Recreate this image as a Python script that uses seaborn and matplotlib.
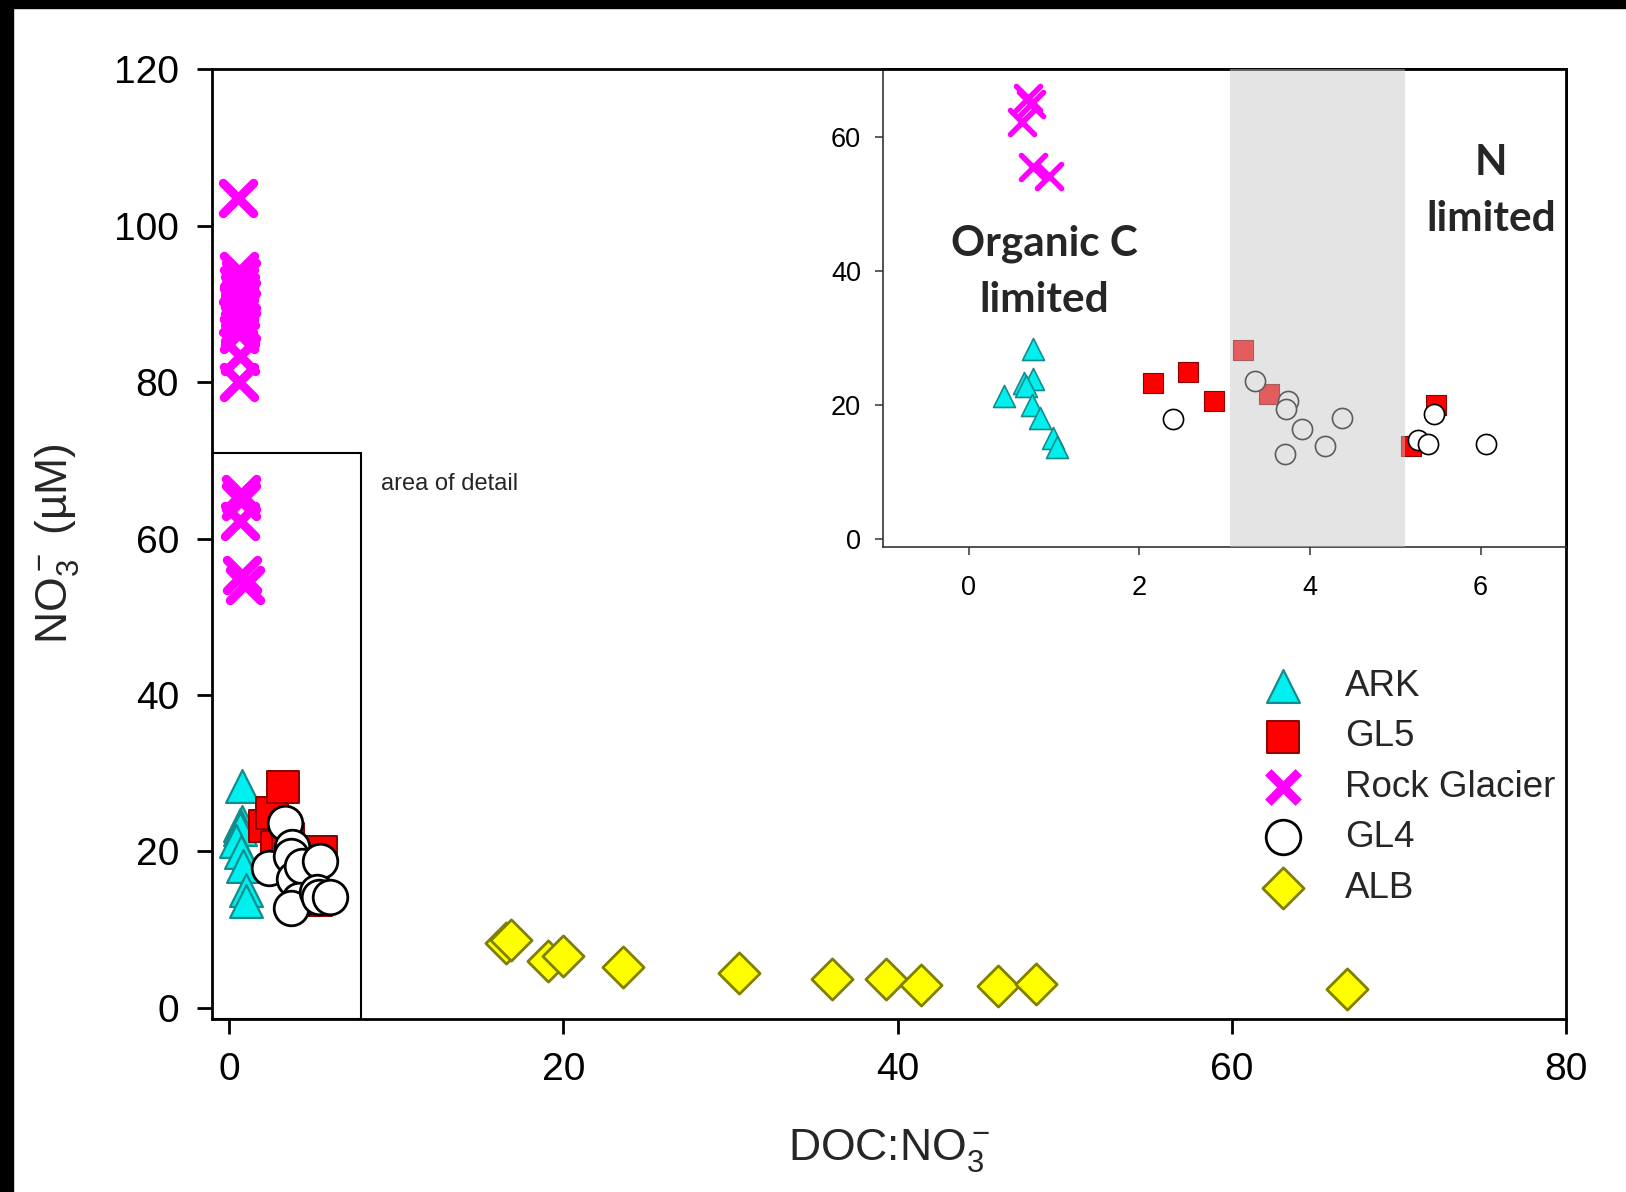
import matplotlib
matplotlib.use("Agg")
import matplotlib.pyplot as plt
import seaborn as sns
import pandas as pd
from matplotlib.patches import Rectangle

# ---------------- data ----------------
sites = ["ARK", "GL5", "Rock Glacier", "GL4", "ALB"]

ark_x = [0.75, 0.76, 0.65, 0.67, 0.42, 0.74, 0.84, 0.99, 1.04]
ark_y = [28.3, 23.8, 23.3, 22.8, 21.3, 19.9, 18.1, 15.0, 13.7]

gl5_x = [2.16, 2.57, 2.87, 3.21, 3.52, 5.48, 5.18]
gl5_y = [23.2, 24.9, 20.5, 28.2, 21.6, 19.9, 13.8]

rock_x = [0.55, 0.62, 0.70, 0.58, 0.66, 0.74, 0.60, 0.68, 0.56, 0.72,
          0.64, 0.60, 0.66, 0.62, 0.70, 0.73, 0.63, 0.75, 0.94]
rock_y = [103.5, 94.2, 93.3, 92.4, 91.6, 90.8, 90.0, 89.2, 88.4, 87.6,
          86.8, 86.2, 83.3, 80.0, 65.7, 64.8, 62.2, 55.4, 54.1]

gl4_x = [2.40, 3.36, 3.74, 3.72, 3.91, 4.37, 4.18, 3.71, 5.45, 5.27, 5.38, 6.06]
gl4_y = [17.9, 23.6, 20.5, 19.4, 16.4, 18.1, 13.8, 12.7, 18.7, 14.8, 14.1, 14.1]

alb_x = [16.6, 16.9, 19.1, 20.0, 23.6, 30.5, 36.1, 39.3, 41.4, 46.0, 48.3, 66.9]
alb_y = [8.3, 8.6, 6.0, 6.6, 5.2, 4.4, 3.6, 3.6, 2.9, 2.8, 3.0, 2.4]

main_xticks = [0, 20, 40, 60, 80]
main_yticks = [0, 20, 40, 60, 80, 100, 120]
inset_xticks = [0, 2, 4, 6]
inset_yticks = [0, 20, 40, 60]
band_range = [3.06, 5.11]   # shaded transition zone in the inset (DOC:NO3)

# ---------------- style ----------------
sns.set_theme(style="white")
plt.rcParams["font.family"] = ["Liberation Sans", "DejaVu Sans"]
plt.rcParams["mathtext.fontset"] = "custom"
plt.rcParams["mathtext.rm"] = "Liberation Sans"
plt.rcParams["mathtext.it"] = "Liberation Sans:italic"
plt.rcParams["mathtext.bf"] = "Liberation Sans:bold"

styles = {
    "ARK": dict(marker="^", color="#00f0f0", edgecolor="#148c8c"),
    "GL5": dict(marker="s", color="#ff0000", edgecolor="#8b0000"),
    "Rock Glacier": dict(marker="x", color="#ff00ff"),
    "GL4": dict(marker="o", color="white", edgecolor="black"),
    "ALB": dict(marker="D", color="#ffff00", edgecolor="#808000"),
}
series = {
    "ARK": (ark_x, ark_y),
    "GL5": (gl5_x, gl5_y),
    "Rock Glacier": (rock_x, rock_y),
    "GL4": (gl4_x, gl4_y),
    "ALB": (alb_x, alb_y),
}
main_size = {"ARK": 560, "GL5": 520, "Rock Glacier": 480, "GL4": 620, "ALB": 440}
main_lw = {"ARK": 1.6, "GL5": 1.4, "Rock Glacier": 6.5, "GL4": 2.0, "ALB": 2.0}
inset_size = {"ARK": 250, "GL5": 190, "Rock Glacier": 300, "GL4": 210, "ALB": 200}
inset_lw = {"ARK": 1.2, "GL5": 0.8, "Rock Glacier": 4.0, "GL4": 1.2, "ALB": 1.2}

fig = plt.figure(figsize=(16.26, 11.92), dpi=100)
fig.patch.set_facecolor("white")

# ---------------- main axes ----------------
ax = fig.add_axes([0.1306, 0.1455, 0.8325, 0.7962])
handles = []
for name in sites:
    x, y = series[name]
    df = pd.DataFrame({"x": x, "y": y})
    st = styles[name]
    kw = dict(marker=st["marker"], s=main_size[name], linewidth=main_lw[name],
              color=st["color"], zorder=2, legend=False, label=name)
    if "edgecolor" in st:
        kw["edgecolor"] = st["edgecolor"]
    sns.scatterplot(data=df, x="x", y="y", ax=ax, **kw)
    coll = ax.collections[-1]
    if name == "Rock Glacier":
        coll.set_capstyle("round")
    handles.append(coll)

ax.set_xlim(-1.0, 80)
ax.set_ylim(-1.4, 120)
ax.set_xticks(main_xticks)
ax.set_yticks(main_yticks)
for sp in ax.spines.values():
    sp.set_visible(True)
    sp.set_linewidth(2.0)
    sp.set_color("black")
ax.tick_params(axis="both", direction="out", length=11, width=2.0,
               labelsize=28, colors="black", bottom=True, left=True)
ax.tick_params(axis="x", pad=13)
ax.tick_params(axis="y", pad=13)

ax.set_xlabel(r"DOC:NO$_3^-$", fontsize=32)
ax.set_ylabel(r"NO$_3^-$ (µM)", fontsize=32)
ax.xaxis.label.set_verticalalignment("center")
ax.yaxis.label.set_verticalalignment("center")
ax.xaxis.set_label_coords(0.5, -0.139)
ax.yaxis.set_label_coords(-0.1145, 0.5)

# area of detail box
ax.add_patch(Rectangle((-1.0, -1.4), 8.9, 72.4, fill=False, edgecolor="black",
                       linewidth=1.5, zorder=1))
ax.text(9.1, 67.0, "area of detail", fontsize=17, ha="left", va="center")

leg = ax.legend(handles=handles, labels=sites, loc="upper left",
                bbox_to_anchor=(0.7721, 0.439), bbox_transform=fig.transFigure,
                frameon=False, fontsize=26.5, handlelength=1.5, handletextpad=0.94,
                labelspacing=0.42, borderpad=0, borderaxespad=0)

# ---------------- inset axes ----------------
axi = fig.add_axes([0.5432, 0.5411, 0.4199, 0.4006])
axi.set_facecolor("white")
for name in sites:
    x, y = series[name]
    df = pd.DataFrame({"x": x, "y": y})
    st = styles[name]
    kw = dict(marker=st["marker"], s=inset_size[name], linewidth=inset_lw[name],
              color=st["color"], zorder=2, legend=False)
    if "edgecolor" in st:
        kw["edgecolor"] = st["edgecolor"]
    sns.scatterplot(data=df, x="x", y="y", ax=axi, **kw)
    if name == "Rock Glacier":
        axi.collections[-1].set_capstyle("round")

axi.axvspan(band_range[0], band_range[1], color="#c6c6c6", alpha=0.47,
            linewidth=0, zorder=3)
axi.set_xlim(-1, 7)
axi.set_ylim(-1.2, 70)
axi.set_xticks(inset_xticks)
axi.set_yticks(inset_yticks)
axi.set_xlabel("")
axi.set_ylabel("")
for sp in axi.spines.values():
    sp.set_visible(True)
    sp.set_linewidth(1.2)
    sp.set_color("#333333")
axi.spines["top"].set_color("black")
axi.spines["top"].set_linewidth(2.0)
axi.spines["right"].set_color("black")
axi.spines["right"].set_linewidth(2.0)
axi.tick_params(axis="both", direction="out", length=6, width=1.1,
                labelsize=19.5, colors="#333333", labelcolor="black",
                bottom=True, left=True)
axi.tick_params(axis="x", pad=14)
axi.tick_params(axis="y", pad=10)

axi.text(0.89, 39.8, "Organic C\nlimited", fontsize=30.4, fontweight="bold",
         family=["Lato", "DejaVu Sans"], ha="center", va="center",
         linespacing=1.58, zorder=4)
axi.text(6.12, 51.9, "N\nlimited", fontsize=30.4, fontweight="bold",
         family=["Lato", "DejaVu Sans"], ha="center", va="center",
         linespacing=1.58, zorder=4)

# ---------------- black screenshot frame ----------------
W, H = 1626.0, 1192.0
fig.add_artist(Rectangle((0, 1 - 8 / H), 1, 8 / H, transform=fig.transFigure,
                         color="black", zorder=10))
fig.add_artist(Rectangle((0, 0), 12.5 / W, 1, transform=fig.transFigure,
                         color="black", zorder=10))

fig.savefig("out.png", dpi=100, facecolor="white")
